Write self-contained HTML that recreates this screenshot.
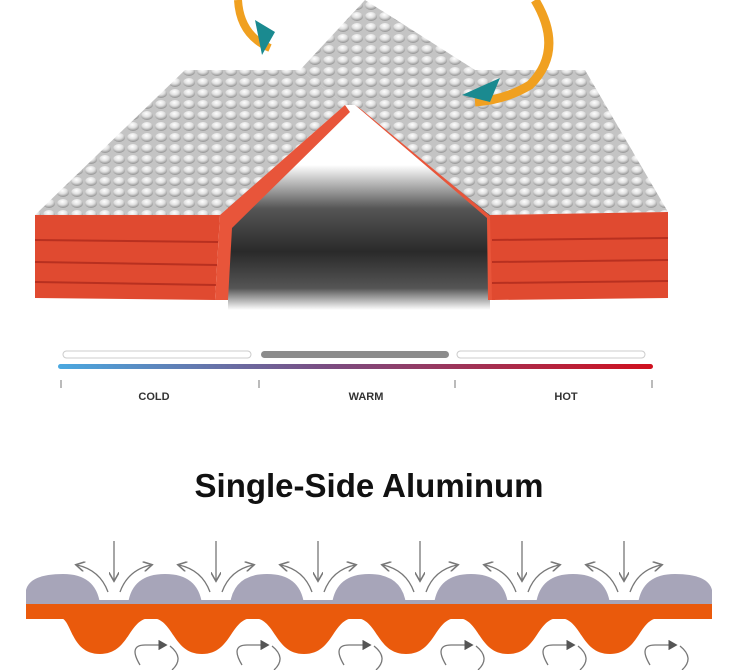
<!DOCTYPE html>
<html><head><meta charset="utf-8"><style>
html,body{margin:0;padding:0;background:#fff;}
body{width:750px;height:670px;overflow:hidden;position:relative;font-family:"Liberation Sans",sans-serif;}
svg{position:absolute;left:0;top:0;}
</style></head><body>
<svg width="750" height="670" viewBox="0 0 750 670" xmlns="http://www.w3.org/2000/svg">
<defs>
<radialGradient id="bump" cx="45%" cy="30%" r="65%">
<stop offset="0" stop-color="#ffffff"/><stop offset="0.55" stop-color="#e0e0e0"/><stop offset="1" stop-color="#9a9a9a"/>
</radialGradient>
<pattern id="foil" width="14" height="11" patternUnits="userSpaceOnUse">
<rect width="14" height="11" fill="#c4c4c4"/>
<ellipse cx="7" cy="5.5" rx="6" ry="4.5" fill="url(#bump)"/>
</pattern>
<linearGradient id="temp" x1="0" x2="1">
<stop offset="0" stop-color="#4aa8e0"/><stop offset="0.45" stop-color="#7a4d82"/><stop offset="1" stop-color="#d0101e"/>
</linearGradient>
<linearGradient id="shadow" x1="0" y1="0" x2="0" y2="1">
<stop offset="0" stop-color="#fff"/><stop offset="0.3" stop-color="#555"/><stop offset="0.6" stop-color="#2a2a2a"/><stop offset="0.85" stop-color="#555"/><stop offset="1" stop-color="#fff"/>
</linearGradient>
<marker id="ah" markerWidth="8" markerHeight="8" refX="6" refY="4" orient="auto"><path d="M0,0 L7,4 L0,8" fill="none" stroke="#777" stroke-width="1.2"/></marker>
<marker id="ah2" markerWidth="8" markerHeight="8" refX="5" refY="4" orient="auto"><path d="M0,0 L7,4 L0,8 Z" fill="#555"/></marker>
</defs>

<!-- shadow inside tent -->
<rect x="228" y="165" width="262" height="145" fill="url(#shadow)"/>
<!-- left block -->
<polygon points="35,215 220,215 345,105 300,70 185,70" fill="url(#foil)"/>
<polygon points="35,215 220,215 215,300 35,298" fill="#e04a30"/>
<g stroke="#b83020" stroke-width="2"><line x1="35" y1="240" x2="218" y2="242"/><line x1="35" y1="262" x2="217" y2="265"/><line x1="35" y1="282" x2="216" y2="285"/></g>
<polygon points="220,215 345,105 350,112 232,228 228,300 215,300" fill="#e8553a"/>
<!-- peak panels -->
<polygon points="300,70 345,105 355,105 475,70 365,0" fill="url(#foil)"/>
<polygon points="355,105 475,70 490,215 " fill="url(#foil)"/>
<!-- right block -->
<polygon points="490,215 668,212 585,70 475,70 355,105" fill="url(#foil)"/>
<polygon points="355,105 362,110 495,220 495,300 488,300 487,218" fill="#e8553a"/>
<polygon points="490,215 668,212 668,298 492,300" fill="#e04a30"/>
<g stroke="#b83020" stroke-width="2"><line x1="492" y1="240" x2="668" y2="238"/><line x1="492" y1="262" x2="668" y2="260"/><line x1="492" y1="283" x2="668" y2="281"/></g>

<!-- orange arrows -->
<path d="M238,0 Q240,35 270,48" fill="none" stroke="#f0a020" stroke-width="8"/>
<path d="M255,20 L275,32 L262,55 Z" fill="#1a8a90"/>
<path d="M535,0 Q565,50 530,85 Q505,100 475,102" fill="none" stroke="#f0a020" stroke-width="9"/>
<path d="M462,95 L500,78 L490,102 Z" fill="#1a8a90"/>

<!-- scale -->
<rect x="63" y="351" width="188" height="7" rx="3.5" fill="#fff" stroke="#ccc"/>
<rect x="261" y="351" width="188" height="7" rx="3.5" fill="#8c8c8c"/>
<rect x="457" y="351" width="188" height="7" rx="3.5" fill="#fff" stroke="#ccc"/>
<rect x="58" y="364" width="595" height="5" rx="2.5" fill="url(#temp)"/>
<g stroke="#777" stroke-width="1"><line x1="61" y1="380" x2="61" y2="388"/><line x1="259" y1="380" x2="259" y2="388"/><line x1="455" y1="380" x2="455" y2="388"/><line x1="652" y1="380" x2="652" y2="388"/></g>
<g font-size="11" fill="#333" text-anchor="middle" font-weight="bold"><text x="154" y="400">COLD</text><text x="366" y="400">WARM</text><text x="566" y="400">HOT</text></g>

<text x="369" y="497" font-size="33" font-weight="bold" fill="#111" text-anchor="middle">Single-Side Aluminum</text>

<!-- bottom diagram -->
<rect x="26" y="604" width="686" height="15" fill="#ea5a0c"/>
<path fill="#ea5a0c" d="M60,618 C72,618 70,654 100,654 C130,654 128,618 151,618 C174,618 172,654 202,654 C232,654 230,618 253,618 C276,618 274,654 304,654 C334,654 332,618 355,618 C378,618 376,654 406,654 C436,654 434,618 457,618 C480,618 478,654 508,654 C538,654 536,618 559,618 C582,618 580,654 610,654 C640,654 638,618 660,618 Z"/>
<g fill="#a7a5b9">
<path d="M26,604 L26,590 Q30,574 63,574 Q96,574 100,604 Z"/>
<path d="M128,604 Q132,574 165,574 Q198,574 202,604 Z"/>
<path d="M230,604 Q234,574 267,574 Q300,574 304,604 Z"/>
<path d="M332,604 Q336,574 369,574 Q402,574 406,604 Z"/>
<path d="M434,604 Q438,574 471,574 Q504,574 508,604 Z"/>
<path d="M536,604 Q540,574 573,574 Q606,574 610,604 Z"/>
<path d="M638,604 Q642,574 675,574 Q708,574 712,590 L712,604 Z"/>
<rect x="26" y="600" width="686" height="4"/>
</g>
<g stroke="#777" stroke-width="1.3" fill="none">
<g id="a"><line x1="114" y1="541" x2="114" y2="580" marker-end="url(#ah)"/>
<path d="M108,592 Q100,570 77,565" marker-end="url(#ah)"/>
<path d="M120,592 Q128,570 151,565" marker-end="url(#ah)"/>
<path d="M140,665 Q128,645 145,645 L165,645" marker-end="url(#ah2)"/>
<path d="M170,646 Q185,658 172,670"/></g>
<use href="#a" x="102"/><use href="#a" x="204"/><use href="#a" x="306"/><use href="#a" x="408"/><use href="#a" x="510"/>
</g>
</svg>
</body></html>
